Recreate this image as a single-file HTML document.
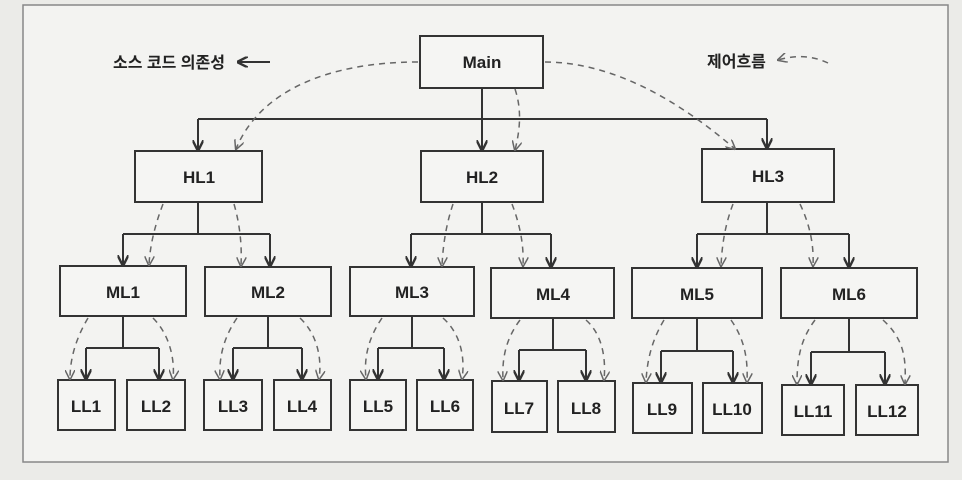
<!DOCTYPE html>
<html><head><meta charset="utf-8"><style>
html,body{margin:0;padding:0;background:#e9e9e6;}
svg{display:block}
text{font-family:"Liberation Sans","Noto Sans CJK KR",sans-serif;font-weight:bold;fill:#222;}
</style></head><body>
<svg width="962" height="480" viewBox="0 0 962 480" xmlns="http://www.w3.org/2000/svg">
<defs>
<marker id="a" viewBox="0 0 10 10" refX="9" refY="5" markerWidth="11" markerHeight="11" orient="auto" markerUnits="userSpaceOnUse"><path d="M0,0 L10,5 L0,10" fill="none" stroke="#333" stroke-width="2.2"/></marker>
<marker id="d" viewBox="0 0 10 10" refX="9" refY="5" markerWidth="10" markerHeight="10" orient="auto" markerUnits="userSpaceOnUse"><path d="M0,0 L10,5 L0,10" fill="none" stroke="#666" stroke-width="1.5"/></marker>
</defs>
<rect x="0" y="0" width="962" height="480" fill="#ebebe8"/>
<rect x="23" y="5" width="925" height="457" fill="#f3f3f1" stroke="#888" stroke-width="1.5"/>
<g fill="#f5f5f3" stroke="#333" stroke-width="2">
<rect x="420" y="36" width="123" height="52"/>
<rect x="135" y="151" width="127" height="51"/>
<rect x="421" y="151" width="122" height="51"/>
<rect x="702" y="149" width="132" height="53"/>
<rect x="60" y="266" width="126" height="50"/>
<rect x="205" y="267" width="126" height="49"/>
<rect x="350" y="267" width="124" height="49"/>
<rect x="491" y="268" width="123" height="50"/>
<rect x="632" y="268" width="130" height="50"/>
<rect x="781" y="268" width="136" height="50"/>
<rect x="58" y="380" width="57" height="50"/>
<rect x="127" y="380" width="58" height="50"/>
<rect x="204" y="380" width="58" height="50"/>
<rect x="274" y="380" width="57" height="50"/>
<rect x="350" y="380" width="56" height="50"/>
<rect x="417" y="380" width="56" height="50"/>
<rect x="492" y="381" width="55" height="51"/>
<rect x="558" y="381" width="57" height="51"/>
<rect x="633" y="383" width="59" height="50"/>
<rect x="703" y="383" width="59" height="50"/>
<rect x="782" y="385" width="62" height="50"/>
<rect x="856" y="385" width="62" height="50"/>
</g>
<g font-size="17" text-anchor="middle">
<text x="482" y="68">Main</text>
<text x="199" y="183">HL1</text><text x="482" y="183">HL2</text><text x="768" y="182">HL3</text>
<text x="123" y="298">ML1</text><text x="268" y="298">ML2</text><text x="412" y="298">ML3</text>
<text x="553" y="300">ML4</text><text x="697" y="300">ML5</text><text x="849" y="300">ML6</text>
<text x="86" y="412">LL1</text><text x="156" y="412">LL2</text><text x="233" y="412">LL3</text>
<text x="302" y="412">LL4</text><text x="378" y="412">LL5</text><text x="445" y="412">LL6</text>
<text x="519" y="414">LL7</text><text x="586" y="414">LL8</text><text x="662" y="415">LL9</text>
<text x="732" y="415">LL10</text><text x="813" y="417">LL11</text><text x="887" y="417">LL12</text>
</g>
<text x="113" y="68" font-size="16">소스 코드 의존성</text>
<text x="707" y="67" font-size="16">제어흐름</text>
<line x1="270" y1="62" x2="238" y2="62" stroke="#333" stroke-width="2" marker-end="url(#a)"/>
<path d="M828,63 Q805,52 778,60" fill="none" stroke="#666" stroke-width="1.5" stroke-dasharray="6,5" marker-end="url(#d)"/>
<g fill="none" stroke="#333" stroke-width="2">
<path d="M482,88 V119 M198,119 H767"/>
<path d="M198,119 V150" marker-end="url(#a)"/><path d="M482,119 V150" marker-end="url(#a)"/><path d="M767,119 V148" marker-end="url(#a)"/>
<path d="M198,202 V234 M123,234 H270"/><path d="M123,234 V265" marker-end="url(#a)"/><path d="M270,234 V266" marker-end="url(#a)"/>
<path d="M482,202 V234 M411,234 H551"/><path d="M411,234 V266" marker-end="url(#a)"/><path d="M551,234 V267" marker-end="url(#a)"/>
<path d="M767,202 V234 M697,234 H849"/><path d="M697,234 V267" marker-end="url(#a)"/><path d="M849,234 V267" marker-end="url(#a)"/>
<path d="M123,316 V348 M86,348 H159"/><path d="M86,348 V379" marker-end="url(#a)"/><path d="M159,348 V379" marker-end="url(#a)"/>
<path d="M268,316 V348 M233,348 H302"/><path d="M233,348 V379" marker-end="url(#a)"/><path d="M302,348 V379" marker-end="url(#a)"/>
<path d="M412,316 V348 M378,348 H444"/><path d="M378,348 V379" marker-end="url(#a)"/><path d="M444,348 V379" marker-end="url(#a)"/>
<path d="M553,318 V350 M519,350 H586"/><path d="M519,350 V380" marker-end="url(#a)"/><path d="M586,350 V380" marker-end="url(#a)"/>
<path d="M697,318 V351 M661,351 H733"/><path d="M661,351 V382" marker-end="url(#a)"/><path d="M733,351 V382" marker-end="url(#a)"/>
<path d="M849,318 V352 M811,352 H885"/><path d="M811,352 V384" marker-end="url(#a)"/><path d="M885,352 V384" marker-end="url(#a)"/>
</g>
<g fill="none" stroke="#666" stroke-width="1.5" stroke-dasharray="6,5">
<path d="M418,62 C330,62 260,90 236,149" marker-end="url(#d)"/>
<path d="M545,62 C620,62 690,110 735,149" marker-end="url(#d)"/>
<path d="M515,89 C522,110 520,130 515,150" marker-end="url(#d)"/>
<path d="M163,204 C155,225 150,245 149,265" marker-end="url(#d)"/>
<path d="M234,204 C240,225 242,245 241,266" marker-end="url(#d)"/>
<path d="M453,204 C446,225 443,245 442,266" marker-end="url(#d)"/>
<path d="M512,204 C520,225 524,245 523,266" marker-end="url(#d)"/>
<path d="M733,204 C725,225 722,245 721,266" marker-end="url(#d)"/>
<path d="M800,204 C810,225 814,245 813,266" marker-end="url(#d)"/>
<path d="M88,318 C75,340 70,360 70,379" marker-end="url(#d)"/>
<path d="M153,318 C170,335 175,360 173,379" marker-end="url(#d)"/>
<path d="M237,318 C222,340 219,360 220,379" marker-end="url(#d)"/>
<path d="M300,318 C318,335 322,360 319,379" marker-end="url(#d)"/>
<path d="M382,318 C367,340 364,360 366,379" marker-end="url(#d)"/>
<path d="M443,318 C462,335 465,360 462,379" marker-end="url(#d)"/>
<path d="M520,320 C505,340 502,360 503,380" marker-end="url(#d)"/>
<path d="M586,320 C603,335 606,360 604,380" marker-end="url(#d)"/>
<path d="M664,320 C652,340 647,360 646,382" marker-end="url(#d)"/>
<path d="M731,320 C745,340 748,360 747,382" marker-end="url(#d)"/>
<path d="M815,320 C800,340 797,360 797,384" marker-end="url(#d)"/>
<path d="M883,320 C905,340 906,360 905,384" marker-end="url(#d)"/>
</g>
</svg>
</body></html>
